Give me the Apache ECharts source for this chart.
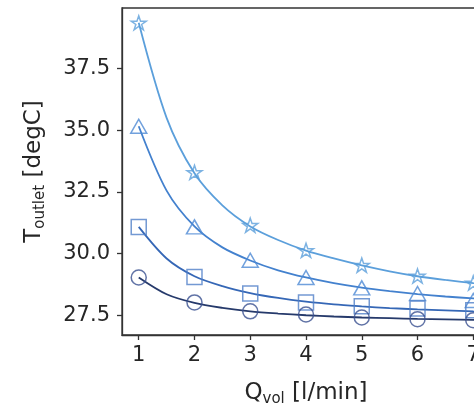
<!DOCTYPE html>
<html>
<head>
<meta charset="utf-8">
<script src="https://cdn.jsdelivr.net/npm/echarts@6/dist/echarts.min.js"></script>
<style>html,body{margin:0;padding:0;background:#fff;overflow:hidden;width:474px;height:407px}#c{width:500px;height:407px}</style>
</head>
<body>
<div id="c"></div>
<script>
// measured points
var qVol = [1, 2, 3, 4, 5, 6, 7];
var tStar = [39.35, 33.29, 31.15, 30.13, 29.53, 29.09, 28.81];
var tTri = [35.16, 31.08, 29.73, 29.03, 28.61, 28.38, 28.10];
var tSq = [31.08, 29.05, 28.38, 28.02, 27.87, 27.77, 27.70];
var tCirc = [29.03, 28.02, 27.66, 27.53, 27.41, 27.34, 27.30];
// fitted curves
var qFit = [1, 1.5, 2, 2.5, 3, 3.5, 4, 4.5, 5, 5.5, 6, 6.5, 7, 7.5];
var fitStar = [39.35, 35.5, 33.25, 31.95, 31.1, 30.55, 30.12, 29.8, 29.52, 29.28, 29.08, 28.93, 28.8, 28.68];
var fitTri = [35.16, 32.55, 31.1, 30.25, 29.72, 29.32, 29.03, 28.8, 28.62, 28.48, 28.36, 28.26, 28.18, 28.1];
var fitSq = [31.08, 29.8, 29.08, 28.68, 28.4, 28.2, 28.05, 27.94, 27.86, 27.79, 27.74, 27.7, 27.66, 27.63];
var fitCirc = [29.03, 28.35, 28.0, 27.8, 27.66, 27.57, 27.5, 27.45, 27.41, 27.38, 27.35, 27.33, 27.31, 27.29];
var xTicks = [1, 2, 3, 4, 5, 6, 7];
var yTicks = [27.5, 30.0, 32.5, 35.0, 37.5];

function zip(xs, ys) { return xs.map(function (x, i) { return [x, ys[i]]; }); }

var starPath = 'path://M50,0 L61.8,35.1 L98.9,35.1 L68.9,56.7 L80.3,91.9 L50,70.1 L19.7,91.9 L31.1,56.7 L1.1,35.1 L38.2,35.1 Z';
var FONT = 'DejaVu Sans';
var TXT = '#262626';

var groups = [
  { fit: fitStar, pts: tStar, line: '#5b9fdb', mark: '#5b9fdb', sym: starPath, size: 15 },
  { fit: fitTri, pts: tTri, line: '#4381ce', mark: '#4d8ad4', sym: 'triangle', size: [16, 14] },
  { fit: fitSq, pts: tSq, line: '#3567b6', mark: '#5080c8', sym: 'rect', size: 15 },
  { fit: fitCirc, pts: tCirc, line: '#263a6b', mark: '#3a5090', sym: 'circle', size: 15 }
];

var series = [];
groups.forEach(function (g) {
  series.push({
    type: 'line', data: zip(qFit, g.fit), smooth: 0.3, showSymbol: false, clip: true,
    lineStyle: { color: g.line, width: 1.8 }, z: 2, animation: false
  });
});
groups.forEach(function (g) {
  series.push({
    type: 'scatter', data: zip(qVol, g.pts), symbol: g.sym, symbolSize: g.size, symbolKeepAspect: true,
    itemStyle: { color: 'rgba(0,0,0,0)', borderColor: g.mark, borderWidth: 1.5 }, z: 3, animation: false
  });
});

var chart = echarts.init(document.getElementById('c'), null, { renderer: 'canvas' });
chart.setOption({
  animation: false,
  grid: { left: 122, top: 8, width: 368, height: 327, containLabel: false, outerBoundsMode: 'none',
    show: true, borderColor: '#333', borderWidth: 1.3, backgroundColor: 'rgba(0,0,0,0)' },
  xAxis: {
    type: 'value', min: 0.7, max: 7.3,
    axisLine: { show: true, lineStyle: { color: '#333', width: 1.3 } },
    axisTick: { show: true, length: 5, lineStyle: { color: '#333', width: 1.3 }, customValues: xTicks },
    axisLabel: { fontFamily: FONT, fontSize: 21, color: TXT, margin: 10, customValues: xTicks },
    splitLine: { show: false },
    name: '{m|Q}{s|vol}{m| [l/min]}', nameLocation: 'middle', nameGap: 44,
    nameTextStyle: {
      fontFamily: FONT, color: TXT,
      rich: {
        m: { fontFamily: FONT, fontSize: 23, color: TXT, lineHeight: 28 },
        s: { fontFamily: FONT, fontSize: 15, color: TXT, lineHeight: 28, verticalAlign: 'bottom' }
      }
    }
  },
  yAxis: {
    type: 'value', min: 26.7, max: 39.95,
    axisLine: { show: true, lineStyle: { color: '#333', width: 1.3 } },
    axisTick: { show: true, length: 5, lineStyle: { color: '#333', width: 1.3 }, customValues: yTicks },
    axisLabel: { fontFamily: FONT, fontSize: 21, color: TXT, margin: 12, customValues: yTicks,
      formatter: function (v) { return v.toFixed(1); } },
    splitLine: { show: false },
    name: '{m|T}{s|outlet}{m| [degC]}', nameLocation: 'middle', nameGap: 74, nameRotate: 90,
    nameTextStyle: {
      fontFamily: FONT, color: TXT,
      rich: {
        m: { fontFamily: FONT, fontSize: 23, color: TXT, lineHeight: 28 },
        s: { fontFamily: FONT, fontSize: 15, color: TXT, lineHeight: 28, verticalAlign: 'bottom' }
      }
    }
  },
  series: series
});
</script>
</body>
</html>
